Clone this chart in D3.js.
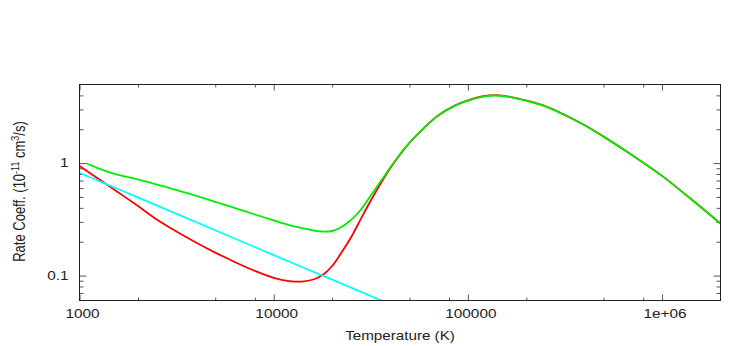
<!DOCTYPE html>
<html>
<head>
<meta charset="utf-8">
<script src="https://cdn.jsdelivr.net/npm/d3@7"></script>
<style>
  body { margin: 0; background: #fff; }
  svg { display: block; font-family: "Liberation Sans", Arial, sans-serif; }
</style>
</head>
<body>
<svg id="chart" width="747" height="346"></svg>
<script>
// data
const temps = [1000, 1100, 1250, 1500, 2000, 2500, 3000, 4000, 5000, 6000, 8000,
  10000, 12000, 14000, 16000, 18000, 20000, 22000, 25000, 28000, 32000, 36000,
  40000, 45000, 50000, 60000, 70000, 85000, 100000, 120000, 140000, 170000,
  200000, 250000, 300000, 400000, 500000, 700000, 1000000, 1400000, 2000000];

const redValues = [0.942, 0.844, 0.725, 0.586, 0.415, 0.315, 0.259, 0.1955, 0.160, 0.1375, 0.110,
  0.0955, 0.0894, 0.0884, 0.0922, 0.1022, 0.1216, 0.1539, 0.218, 0.3145, 0.4815, 0.682,
  0.908, 1.205, 1.509, 2.09, 2.64, 3.23, 3.61, 3.93, 4.02, 3.85,
  3.6, 3.21, 2.8, 2.17, 1.72, 1.18, 0.77, 0.484, 0.29];

const greenTemps = [1090, 1250, 1500, 2000, 2500, 3000, 4000, 5000, 6000, 8000,
  10000, 12000, 14000, 16000, 18000, 20000, 22000, 25000, 28000, 32000, 36000,
  40000, 45000, 50000, 60000, 70000, 85000, 100000, 120000, 140000, 170000,
  200000, 250000, 300000, 400000, 500000, 700000, 1000000, 1400000, 2000000];

const greenValues = [0.992, 0.899, 0.808, 0.715, 0.645, 0.591, 0.510, 0.453, 0.410, 0.349,
  0.309, 0.281, 0.264, 0.2515, 0.246, 0.249, 0.266, 0.312, 0.383, 0.531, 0.710,
  0.923, 1.217, 1.525, 2.08, 2.63, 3.21, 3.59, 3.9, 3.99, 3.83,
  3.58, 3.2, 2.79, 2.17, 1.72, 1.18, 0.77, 0.484, 0.29];

const cyanTemps = [1000, 2000, 5000, 10000, 20000, 50000];
const cyanValues = [0.82, 0.495, 0.253, 0.152, 0.092, 0.047];

const xMajor = [1000, 10000, 100000, 1000000];
const xMinor = [2000, 5000, 8000, 20000, 50000, 80000, 200000, 500000, 800000];
const yMajor = [0.1, 1];
const yMinor = [0.07, 0.08, 0.09, 0.2, 0.3, 0.4, 0.5, 0.6, 0.7, 0.8, 0.9, 2, 3, 4];

const width = 747, height = 346;
const plotLeft = 79.5, plotRight = 720.5, plotTop = 84.5, plotBottom = 300.5;

const svg = d3.select("#chart");

const x = d3.scaleLog().domain([1000, 2000000]).range([plotLeft, plotRight]);
const y = d3.scaleLog().domain([0.06, 5]).range([plotBottom, plotTop]);

// clip for the lines
svg.append("clipPath").attr("id", "plot")
  .append("rect")
  .attr("x", plotLeft).attr("y", plotTop)
  .attr("width", plotRight - plotLeft).attr("height", plotBottom - plotTop);

// axes: major + minor ticks, pointing inward on all four sides
function styleAxis(g) {
  g.select(".domain").remove();
  g.selectAll(".tick line").attr("stroke", "#555");
}

const fmtX = d => d >= 1000000 ? "1e+06" : String(d);

svg.append("g").attr("transform", `translate(0,${plotBottom})`)
  .call(d3.axisBottom(x).tickValues(xMajor).tickSize(-6).tickPadding(9).tickFormat(fmtX))
  .call(styleAxis)
  .call(g => g.selectAll("text")
    .attr("font-size", 12).attr("fill", "#222")
    .attr("font-family", "Liberation Sans, Arial, sans-serif")
    .attr("transform", "translate(2.5,0) scale(1.28,1)"));
svg.append("g").attr("transform", `translate(0,${plotBottom})`)
  .call(d3.axisBottom(x).tickValues(xMinor).tickSize(-3).tickFormat(""))
  .call(styleAxis);
svg.append("g").attr("transform", `translate(0,${plotTop})`)
  .call(d3.axisTop(x).tickValues(xMajor).tickSize(-6).tickFormat(""))
  .call(styleAxis);
svg.append("g").attr("transform", `translate(0,${plotTop})`)
  .call(d3.axisTop(x).tickValues(xMinor).tickSize(-3).tickFormat(""))
  .call(styleAxis);

svg.append("g").attr("transform", `translate(${plotLeft},0)`)
  .call(d3.axisLeft(y).tickValues(yMajor).tickSize(-7).tickFormat(d => String(d)))
  .call(styleAxis)
  .call(g => g.selectAll("text")
    .attr("font-size", 12).attr("fill", "#222")
    .attr("font-family", "Liberation Sans, Arial, sans-serif")
    .attr("x", 0)
    .attr("transform", "translate(-11,0) scale(1.28,1)"));
svg.append("g").attr("transform", `translate(${plotLeft},0)`)
  .call(d3.axisLeft(y).tickValues(yMinor).tickSize(-4).tickFormat(""))
  .call(styleAxis);
svg.append("g").attr("transform", `translate(${plotRight},0)`)
  .call(d3.axisRight(y).tickValues(yMajor).tickSize(-7).tickFormat(""))
  .call(styleAxis);
svg.append("g").attr("transform", `translate(${plotRight},0)`)
  .call(d3.axisRight(y).tickValues(yMinor).tickSize(-4).tickFormat(""))
  .call(styleAxis);

// curves - smooth through the read points
const line = d3.line()
  .x(d => x(d[0]))
  .y(d => y(d[1]))
  .curve(d3.curveCatmullRom.alpha(0.5));

const series = [
  { t: temps, v: redValues, color: "#ff0000" },
  { t: greenTemps, v: greenValues, color: "#00ee00" },
  { t: cyanTemps, v: cyanValues, color: "#00ffff" }
];

svg.append("g").attr("clip-path", "url(#plot)")
  .selectAll("path")
  .data(series)
  .join("path")
  .attr("d", s => line(s.t.map((t, i) => [t, s.v[i]])))
  .attr("fill", "none")
  .attr("stroke", s => s.color)
  .attr("stroke-width", 1.8)
  .attr("stroke-linejoin", "round");

// frame
svg.append("rect")
  .attr("x", plotLeft).attr("y", plotTop)
  .attr("width", plotRight - plotLeft).attr("height", plotBottom - plotTop)
  .attr("fill", "none")
  .attr("stroke", "#222")
  .attr("stroke-width", 1);

// axis titles
svg.append("text")
  .attr("transform", "translate(400,339.5) scale(1.17,1)")
  .attr("text-anchor", "middle")
  .attr("font-size", 13)
  .attr("fill", "#222")
  .text("Temperature (K)");

const yTitle = svg.append("text")
  .attr("transform", "translate(25,191.5) rotate(-90) scale(1,1.25)")
  .attr("text-anchor", "middle")
  .attr("font-size", 13)
  .attr("fill", "#222");
yTitle.append("tspan").text("Rate Coeff. (10");
yTitle.append("tspan").attr("font-size", 9).attr("dy", -5).text("-11");
yTitle.append("tspan").attr("dy", 5).text(" cm");
yTitle.append("tspan").attr("font-size", 9).attr("dy", -5).text("3");
yTitle.append("tspan").attr("dy", 5).text("/s)");
</script>
</body>
</html>
